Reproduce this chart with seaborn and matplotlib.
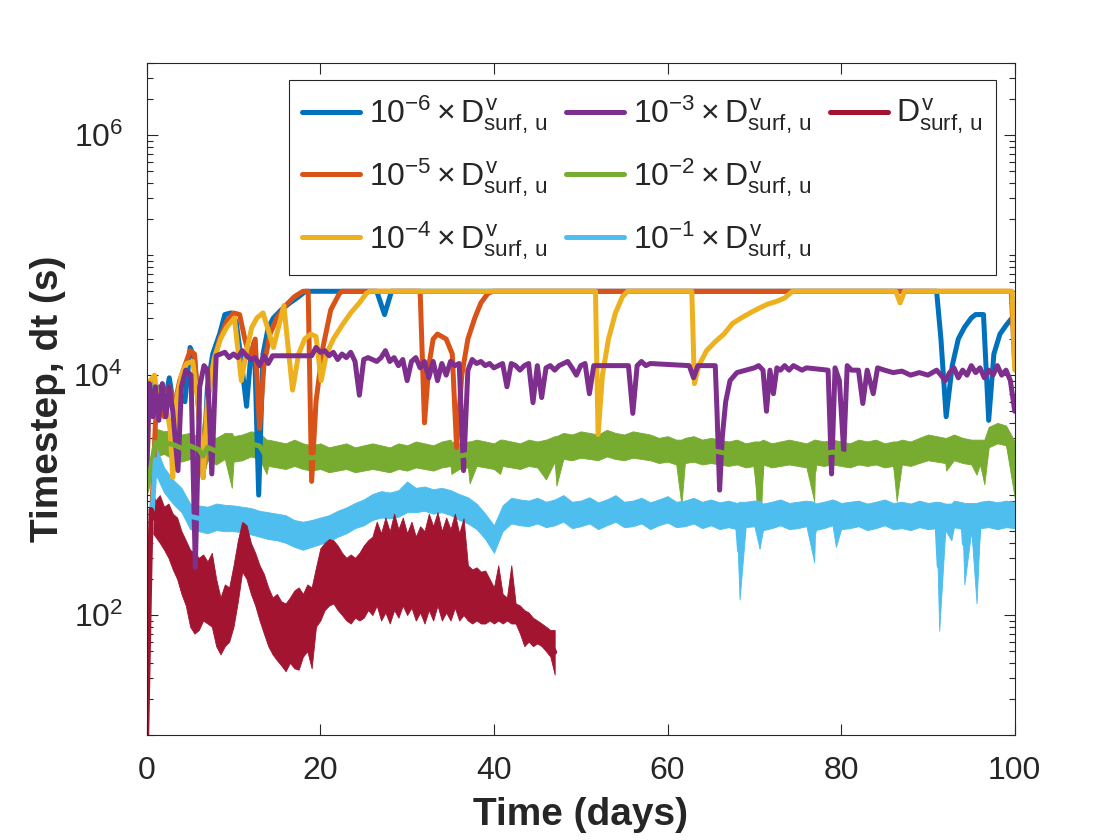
import numpy as np
import pandas as pd
import matplotlib
matplotlib.use("Agg")
import matplotlib.pyplot as plt
from matplotlib.lines import Line2D
from matplotlib.ticker import FixedLocator, LogLocator, LogFormatterMathtext, NullFormatter
import seaborn as sns

sns.set_theme(style="ticks")
plt.rcParams["font.family"] = ["Liberation Sans", "DejaVu Sans"]
plt.rcParams["mathtext.fontset"] = "custom"
plt.rcParams["mathtext.rm"] = "Liberation Sans"
plt.rcParams["mathtext.it"] = "Liberation Sans"
plt.rcParams["mathtext.bf"] = "Liberation Sans:bold"

# ---- data (timestep in seconds) ----
# 10^-6 x D
blue_t = [0, 0.5, 1.0, 1.5, 2.0, 2.6, 3.2, 3.8, 4.4, 5.0, 5.5, 6.0, 6.5, 7.0, 7.6,
          8.4, 9.0, 9.7, 10.3, 10.8, 11.5, 12.0, 12.4, 12.9, 13.4, 14.0, 14.6,
          15.5, 16.5, 17.5, 18.3, 26.5, 27.4, 28.2, 91.0, 91.5, 92.1, 92.8, 93.5,
          94.2, 95.0, 95.5, 96.4, 97.0, 97.6, 98.3, 99.0, 99.7, 100]
blue_dt = [3000, 9000, 5000, 8000, 5500, 9500, 5000, 7000, 6000, 17000, 14000, 5000,
           1500, 8000, 15000, 22000, 32000, 33000, 28000, 15000, 5500, 15000, 19000,
           1000, 15000, 25000, 30000, 35000, 40000, 45000, 50000, 50000, 32000, 50000,
           50000, 20000, 4500, 12000, 20000, 25000, 30000, 32000, 32000, 4200, 15000,
           22000, 26000, 30000, 30000]

# 10^-5 x D
orange_t = [0, 0.5, 1.0, 1.5, 2.0, 2.6, 3.2, 3.8, 4.4, 5.0, 5.5, 6.0, 6.5, 7.0, 7.6,
            8.4, 9.2, 10.0, 10.7, 11.3, 11.9, 12.5, 13.0, 13.5, 14.2, 15.0, 16.0,
            17.0, 18.0, 18.6, 19.0, 19.5, 20.3, 21.2, 22.2, 22.5, 31.5, 32.0, 32.5,
            33.0, 33.5, 34.5, 35.2, 35.7, 36.3, 37.0, 37.8, 38.5, 39.3, 39.9, 99.6, 100]
orange_dt = [400, 500, 4000, 7000, 4500, 8000, 5500, 9000, 12000, 16000, 15000, 5000,
             1400, 6000, 12000, 20000, 28000, 33000, 32000, 20000, 14000, 20000, 3600,
             12000, 22000, 30000, 38000, 45000, 50000, 50000, 1300, 6000, 17000, 35000,
             48000, 50000, 50000, 4000, 12000, 20000, 22000, 20000, 15000, 2500, 10000,
             20000, 30000, 40000, 48000, 50000, 50000, 12000]

# 10^-4 x D
yellow_t = [0, 0.4, 0.9, 1.4, 2.0, 2.7, 3.0, 3.4, 4.0, 4.6, 5.3, 5.9, 6.5, 7.0, 7.8,
            8.5, 9.2, 10.1, 10.9, 11.5, 12.1, 12.7, 13.4, 14.6, 15.8, 16.8, 17.5,
            18.2, 18.9, 19.5, 20.1, 20.7, 21.5, 22.5, 23.5, 24.5, 25.3, 25.7, 51.7,
            52.0, 52.5, 53.2, 54.0, 54.8, 55.4, 62.8, 63.1, 63.6, 64.5, 65.5, 66.5,
            67.5, 68.5, 69.5, 70.5, 71.5, 72.5, 73.5, 74.4, 86.3, 86.8, 87.3, 99.7, 100]
yellow_dt = [1500, 9000, 10000, 5000, 7000, 3500, 1400, 6000, 10000, 12500, 13000,
             6000, 1400, 6000, 14000, 20000, 25000, 30000, 9000, 16000, 25000, 30000,
             33000, 17000, 38000, 7500, 15000, 20000, 22000, 21000, 9000, 15000, 20000,
             26000, 33000, 40000, 48000, 50000, 50000, 3200, 10000, 20000, 33000, 45000,
             50000, 50000, 8500, 12000, 16000, 19000, 22000, 27000, 30000, 33000, 36000,
             39000, 41000, 44000, 50000, 50000, 40000, 50000, 50000, 11000]

# 10^-3 x D
purple_t = [0, 0.3, 0.7, 1.0, 1.4, 1.8, 2.2, 2.6, 3.0, 3.6, 4.0, 4.5, 5.1, 5.6, 6.1,
            6.6, 7.0, 7.5, 8.0, 9.0, 9.5, 10.0, 10.5, 11.0, 11.5, 12.0, 12.5, 13.0,
            13.5, 14.0, 14.5, 19.0, 19.5, 20.0, 20.5, 21.0, 21.5, 22.0, 22.5, 23.0,
            23.5, 24.0, 24.5, 25.0, 25.5, 26.0, 26.5, 27.0, 27.5, 28.0, 28.5, 29.0,
            29.5, 30.0, 30.5, 31.0, 31.5, 32.0, 32.5, 33.0, 33.5, 34.0, 34.5, 35.0,
            35.5, 36.0, 36.5, 37.0, 37.5, 38.0, 38.5, 39.0, 39.5, 40.0, 40.5, 41.0,
            41.5, 42.0, 42.5, 43.0, 43.5, 44.0, 44.5, 45.0, 45.5, 46.0, 46.5, 47.0,
            47.5, 48.0, 48.5, 49.0, 49.5, 50.0, 50.5, 51.0, 51.5, 55.5, 56.0, 56.5,
            57.0, 57.5, 58.0, 62.5, 63.0, 63.5, 65.5, 65.7, 66.0, 66.3, 66.7, 67.2,
            68.0, 69.0, 70.0, 70.5, 71.0, 71.4, 71.8, 72.2, 72.6, 73.0, 73.5, 74.0,
            74.5, 75.0, 75.5, 76.0, 78.5, 78.9, 79.3, 79.8, 80.3, 80.7, 81.2, 82.0,
            82.5, 83.0, 83.7, 84.2, 85.0, 86.0, 87.0, 88.0, 89.0, 90.0, 91.0, 91.5,
            92.0, 92.5, 93.0, 93.5, 94.0, 94.5, 95.0, 95.5, 96.0, 96.5, 97.0, 97.5,
            98.0, 98.5, 99.0, 99.5, 100]
purple_dt = [1400, 8500, 4500, 8000, 4200, 8500, 4500, 8000, 5000, 1600, 8000, 11000,
             10000, 250, 8000, 12000, 11000, 1500, 14500, 15500, 14000, 15000, 14000,
             16000, 14500, 13500, 14000, 12000, 14500, 12500, 14500, 14500, 17000,
             15500, 16000, 14500, 15500, 13500, 15000, 14000, 15500, 13000, 6800,
             13500, 14000, 13500, 13000, 14000, 16000, 13000, 14000, 12000, 13500,
             9000, 13000, 14000, 11500, 13000, 9500, 13000, 9000, 12500, 10000, 13000,
             12000, 12500, 1600, 11000, 13500, 12500, 13000, 12000, 12500, 11500,
             12000, 12500, 8000, 12500, 12000, 11000, 12000, 12500, 5900, 12000, 6500,
             11500, 12000, 11000, 12000, 12500, 13000, 11500, 10000, 12000, 12500,
             7000, 12000, 12000, 4800, 12000, 13000, 12000, 12500, 12000, 9500, 12000,
             12000, 5000, 1100, 3000, 6000, 9000, 10500, 11000, 11500, 12000, 11000,
             5000, 11000, 7000, 11500, 11000, 12000, 11000, 12000, 11500, 11000,
             11500, 11000, 1500, 11500, 9000, 2300, 12000, 11000, 11000, 5800, 11000,
             7000, 11500, 11000, 10500, 10800, 10000, 10500, 10000, 11000, 10000,
             9000, 10500, 11500, 9500, 11000, 10000, 12000, 10500, 11500, 9500, 11000,
             10000, 12000, 10000, 11000, 9000, 5000]

# 10^-2 x D: noise band (high / low edge) read once per day, 0 ... 100, plus spikes
day_t = np.arange(0, 101, 1)
green_hi = [1200, 3600, 3400, 3500, 3200, 3300, 3100, 3200, 3000, 3300,
            3100, 3200, 3400, 3300, 2900, 2800, 2700, 2900, 2700, 2600,
            2700, 2500, 2600, 2700, 2500, 2600, 2700, 2600, 2500, 2700,
            2600, 2800, 2700, 2600, 2800, 2900, 2700, 2800, 2900, 2800,
            2700, 2900, 2800, 2700, 2900, 2800, 2900, 3100, 3300, 3200,
            3400, 3300, 3200, 3500, 3300, 3200, 3400, 3300, 3200, 3000,
            3100, 2900, 3000, 3100, 2900, 3000, 2900, 2800, 2900, 2700,
            2800, 2900, 2700, 2800, 2900, 2800, 2700, 2900, 2800, 2900,
            2800, 2700, 2900, 2800, 2900, 2700, 2800, 2900, 2800, 3000,
            3200, 3100, 3000, 3200, 3000, 2900, 2900, 3700, 4000, 3800,
            2800]
green_lo = [1000, 2100, 2200, 2000, 1900, 2000, 1850, 1950, 1800, 2000,
            1900, 1950, 2100, 2000, 1750, 1700, 1650, 1750, 1650, 1600,
            1650, 1550, 1600, 1650, 1550, 1600, 1650, 1600, 1550, 1650,
            1600, 1700, 1650, 1600, 1700, 1750, 1650, 1700, 1750, 1700,
            1650, 1750, 1700, 1650, 1750, 1700, 1750, 1900, 2000, 1950,
            2050, 2000, 1950, 2100, 2000, 1950, 2050, 2000, 1950, 1850,
            1900, 1800, 1850, 1900, 1800, 1850, 1800, 1750, 1800, 1700,
            1750, 1800, 1700, 1750, 1800, 1750, 1700, 1800, 1750, 1800,
            1750, 1700, 1800, 1750, 1800, 1700, 1750, 1800, 1750, 1850,
            1950, 1900, 1850, 1950, 1850, 1800, 1800, 2500, 2700, 2600,
            950]
green_spike_t = [6.5, 9.8, 13.8, 35.1, 37.2, 40.7, 46.0, 47.2, 61.6, 70.6, 76.9,
                 86.4, 92.1, 95.6, 96.5]
green_spike_hi = [3200, 3300, 2900, 2800, 2800, 2900, 2900, 3100, 2900, 2800, 2900,
                  2800, 3000, 2900, 2900]
green_spike_lo = [1400, 1150, 1500, 1500, 1250, 1500, 1350, 1200, 830, 360, 890,
                  890, 1600, 1480, 1230]

# 10^-1 x D: noise band read once per day, plus spikes
lblue_hi = [130, 2600, 1700, 1350, 1150, 850, 820, 800, 850, 830,
            820, 800, 780, 740, 720, 700, 680, 620, 600, 620,
            650, 680, 740, 790, 860, 920, 1020, 1080, 1050, 1100,
            1300, 1150, 1180, 1120, 1150, 1100, 1020, 960, 850, 700,
            560, 820, 950, 920, 900, 950, 880, 920, 1000, 880,
            900, 960, 870, 920, 1000, 880, 900, 950, 870, 920,
            980, 880, 900, 950, 880, 920, 870, 900, 860, 880,
            900, 850, 880, 920, 860, 880, 900, 850, 880, 920,
            860, 880, 900, 850, 880, 920, 860, 880, 850, 900,
            860, 880, 850, 900, 870, 860, 880, 900, 870, 900,
            880]
lblue_lo = [120, 1500, 1050, 850, 720, 520, 500, 480, 510, 500,
            500, 490, 470, 450, 430, 420, 400, 370, 350, 370,
            390, 410, 450, 480, 530, 560, 620, 650, 640, 660,
            720, 720, 740, 700, 720, 680, 620, 580, 520, 430,
            330, 500, 580, 560, 550, 580, 540, 560, 600, 530,
            550, 580, 520, 560, 600, 540, 550, 580, 520, 560,
            590, 540, 550, 580, 530, 560, 520, 540, 520, 540,
            550, 510, 530, 560, 520, 530, 550, 510, 530, 560,
            520, 530, 550, 510, 530, 560, 520, 530, 510, 540,
            520, 530, 510, 540, 520, 510, 530, 540, 520, 540,
            530]
lblue_spike_t = [68.3, 70.6, 76.9, 79.4, 91.3, 92.7, 94.2, 95.6]
lblue_spike_hi = [880, 900, 880, 900, 880, 850, 860, 860]
lblue_spike_lo = [135, 360, 275, 370, 74, 420, 180, 125]

# 1 x D: noise band read every half day, 0 ... 47
half_t = np.arange(0, 47.5, 0.5)
red_hi = [10, 1150, 900, 1000, 800, 850, 700, 650, 500, 420,
          350, 330, 300, 320, 280, 330, 200, 140, 180, 170,
          260, 420, 600, 560, 400, 330, 260, 220, 170, 140,
          150, 130, 125, 140, 160, 170, 150, 180, 170, 250,
          360, 400, 430, 420, 380, 330, 300, 320, 300, 330,
          380, 420, 450, 600, 480, 650, 500, 700, 520, 650,
          480, 600, 450, 550, 500, 700, 550, 720, 500, 650,
          520, 700, 480, 640, 260, 240, 250, 230, 235, 200,
          170, 260, 150, 140, 260, 125, 120, 110, 105, 95,
          90, 85, 80, 75, 75]
red_lo = [10, 500, 450, 400, 350, 300, 240, 200, 150, 120,
          80, 70, 75, 90, 85, 80, 55, 47, 55, 60,
          80, 130, 230, 200, 150, 120, 90, 70, 55, 47,
          42, 38, 34, 40, 36, 35, 45, 50, 36, 80,
          90, 110, 120, 125, 110, 100, 90, 85, 95, 90,
          95, 110, 100, 120, 90, 105, 85, 110, 95, 120,
          100, 115, 90, 105, 85, 110, 90, 120, 90, 105,
          90, 115, 90, 100, 90, 85, 90, 85, 85, 90,
          85, 90, 85, 90, 85, 85, 70, 55, 60, 55,
          58, 55, 50, 45, 32]

colors = ["#0072BD", "#D95319", "#EDB120", "#7E2F8E", "#77AC30", "#4DBEEE", "#A2142F"]
labels = [r"$10^{-6}\times D^{v}_{surf,\,u}$", r"$10^{-5}\times D^{v}_{surf,\,u}$",
          r"$10^{-4}\times D^{v}_{surf,\,u}$", r"$10^{-3}\times D^{v}_{surf,\,u}$",
          r"$10^{-2}\times D^{v}_{surf,\,u}$", r"$10^{-1}\times D^{v}_{surf,\,u}$",
          r"$D^{v}_{surf,\,u}$"]


def band_frame(t, hi, lo, st=(), shi=(), slo=()):
    # long-form table: every time appears with its upper and lower edge
    tt = np.concatenate([t, t, st, st])
    vv = np.concatenate([hi, lo, shi, slo])
    return pd.DataFrame({"t": tt, "dt": vv})


lines = [(blue_t, blue_dt), (orange_t, orange_dt), (yellow_t, yellow_dt),
         (purple_t, purple_dt)]
bands = [band_frame(day_t, green_hi, green_lo, green_spike_t, green_spike_hi, green_spike_lo),
         band_frame(day_t, lblue_hi, lblue_lo, lblue_spike_t, lblue_spike_hi, lblue_spike_lo),
         band_frame(half_t, red_hi, red_lo)]

# ---- plot ----
fig = plt.figure(figsize=(11.2, 8.4), dpi=100)
ax = fig.add_axes([0.131, 0.125, 0.775, 0.8])
ax.set_yscale("log")

lw = 3.6
for (t, dt), c, lab in zip(lines, colors[:4], labels[:4]):
    sns.lineplot(x=np.asarray(t, dtype=float), y=np.asarray(dt, dtype=float), ax=ax,
                 color=c, lw=lw, label=lab, estimator=None, sort=False)
for df, c, lab in zip(bands, colors[4:], labels[4:]):
    sns.lineplot(data=df, x="t", y="dt", ax=ax, color=c, lw=lw, label=lab,
                 estimator="mean", errorbar=("pi", 100),
                 err_kws={"alpha": 1, "linewidth": 0.6, "edgecolor": c})

ax.set_xlim(0, 100)
ax.set_ylim(10, 4e6)
ax.xaxis.set_major_locator(FixedLocator([0, 20, 40, 60, 80, 100]))
ax.yaxis.set_major_locator(FixedLocator([1e2, 1e4, 1e6]))
ax.yaxis.set_major_formatter(LogFormatterMathtext())
ax.yaxis.set_minor_locator(LogLocator(base=10, subs=np.arange(1, 10), numticks=50))
ax.yaxis.set_minor_formatter(NullFormatter())

ink = "#262626"
for sp in ax.spines.values():
    sp.set_visible(True)
    sp.set_linewidth(0.8)
    sp.set_color(ink)
ax.tick_params(which="both", direction="in", top=True, right=True, color=ink,
               labelcolor=ink, width=0.8)
ax.tick_params(which="major", length=8, labelsize=23)
ax.tick_params(axis="x", which="major", pad=15)
ax.tick_params(axis="y", which="major", pad=17)
ax.tick_params(which="minor", length=4.5)

ax.set_xlabel("Time (days)", fontsize=28, fontweight="bold", color=ink)
ax.set_ylabel("Timestep, dt (s)", fontsize=28, fontweight="bold", color=ink)
ax.xaxis.set_label_coords(0.5, -0.092)
ax.yaxis.set_label_coords(-0.093, 0.5)

# legend: column-major with two blank slots so the third column holds only D
handles, labs = ax.get_legend_handles_labels()
blank = Line2D([], [], color="none")
handles = handles + [blank, blank]
labs = labs + ["", ""]
leg = ax.legend(handles, labs, ncol=3, loc="upper right", bbox_to_anchor=(0.979, 0.975),
                borderaxespad=0, fontsize=23, frameon=True, fancybox=False,
                edgecolor=ink, framealpha=1, handlelength=1.8, handletextpad=0.28,
                columnspacing=0.6, labelspacing=0.62, borderpad=0.42)
leg.get_frame().set_linewidth(0.8)

fig.savefig("out.png", dpi=100, facecolor="white")
